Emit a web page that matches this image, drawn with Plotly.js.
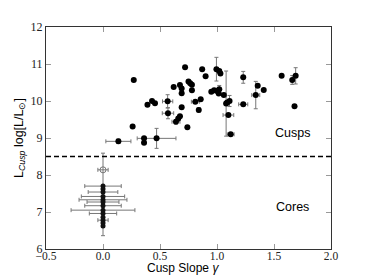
<!DOCTYPE html>
<html>
<head>
<meta charset="utf-8">
<script src="https://cdn.plot.ly/plotly-3.0.1.min.js"></script>
<style>html,body{margin:0;padding:0;background:#fff;}#chart{width:368px;height:276px;}</style>
</head>
<body>
<div id="chart"></div>
<script>
// Cusp galaxies: slope, luminosity, errors
const cuspSlope = [0.27,0.39,0.43,0.456,0.567,0.57,0.26,0.135,0.36,0.36,0.47,0.72,0.87,0.90,0.75,0.765,0.78,0.78,0.62,0.675,0.69,0.69,0.995,1.02,1.03,0.95,0.975,1.0,1.02,1.015,1.08,1.06,1.09,1.11,1.10,1.12,0.69,0.81,0.857,0.84,0.675,0.66,0.64,0.74,1.23,1.23,1.357,1.41,1.34,1.567,1.69,1.66,1.68];
const cuspLum   = [10.57,9.90,10.00,9.94,9.99,9.67,9.31,8.91,8.99,8.87,8.99,10.91,10.86,10.67,10.53,10.48,10.44,10.29,10.38,10.43,10.34,10.21,10.86,10.81,10.74,10.25,10.29,10.27,10.32,10.20,9.93,10.16,9.96,10.0,9.62,9.10,9.83,9.98,10.05,9.76,9.59,9.53,9.44,9.29,10.64,9.91,10.41,10.30,10.16,10.68,10.68,10.57,9.86];
const cuspSlopeErr = [0,0,0,0,0.045,0.05,0,0.11,0,0,0.17,0,0,0,0,0,0,0,0,0,0,0,0,0,0,0,0,0,0,0,0,0,0,0,0.047,0.03,0,0.035,0,0,0,0,0.035,0,0,0.04,0,0,0.035,0,0,0,0];
const cuspLumErr   = [0,0,0,0,0.18,0.15,0,0.06,0,0,0.27,0,0,0,0,0,0,0,0,0,0,0,0.32,0,0,0,0,0,0.1,0,0.88,0,0,0.15,0,0,0,0,0,0.06,0,0,0.06,0,0.16,0,0,0,0.37,0,0.22,0.12,0];

// Core galaxies (slope 0)
const coreSlope = [0,0,0,0,0,0,0,0,0,0,0,0,0];
const coreLum   = [7.70,7.62,7.54,7.42,7.33,7.27,7.17,7.05,6.96,6.86,6.78,6.70,6.62];
const coreSlopeErr = [0.16,0,0.13,0.19,0.21,0.14,0.16,0.28,0.12,0,0.045,0,0];
const coreLumErr   = [0,0,0,0,0,0,0,0,0,0,0,0.34,0];

// Open-symbol core galaxy
const openSlope = [0];
const openLum = [8.14];
const openSlopeErr = [0.045];
const openLumErr = [0.45];

const threshold = 8.5;
const xTicks = [-0.5,0.0,0.5,1.0,1.5,2.0];
const yTicks = [6,7,8,9,10,11,12];
const regionLabels = ['Cusps','Cores'];
const regionLabelX = [1.66,1.66];
const regionLabelY = [9.14,7.13];

const errStyle = (arr) => ({type:'data', array:arr, visible:true, color:'#777', thickness:1, width:2});

const traces = [
  {x:openSlope, y:openLum, mode:'markers', type:'scatter',
   marker:{symbol:'circle-open', size:6, color:'#777', line:{width:1}},
   error_x:errStyle(openSlopeErr), error_y:errStyle(openLumErr), hoverinfo:'skip'},
  {x:coreSlope, y:coreLum, mode:'markers', type:'scatter',
   marker:{symbol:'circle', size:5, color:'#111'},
   error_x:errStyle(coreSlopeErr), error_y:errStyle(coreLumErr)},
  {x:cuspSlope, y:cuspLum, mode:'markers', type:'scatter',
   marker:{symbol:'circle', size:6, color:'#000'},
   error_x:errStyle(cuspSlopeErr), error_y:errStyle(cuspLumErr)}
];

const tickFont = {family:'Liberation Serif, serif', size:11.5, color:'#222'};
const titleFont = {family:'Liberation Sans, Arial, sans-serif', size:12.5, color:'#000'};
const xTitleFont = {family:'Liberation Sans, Arial, sans-serif', size:12, color:'#000'};

const layout = {
  width:368, height:276,
  margin:{l:46, r:37, t:27, b:27},
  paper_bgcolor:'#fff', plot_bgcolor:'#fff',
  showlegend:false,
  xaxis:{range:[-0.5,2.0], tickvals:xTicks, ticktext:xTicks.map(v=>(v<0?'\u2212':'')+Math.abs(v).toFixed(1)),
    ticks:'inside', ticklen:5, tickcolor:'#999', tickwidth:1, ticklabelstandoff:-4,
    showline:true, linecolor:'#333', linewidth:1, mirror:'ticks',
    showgrid:false, zeroline:false, tickfont:tickFont},
  yaxis:{range:[6,12], tickvals:yTicks, ticktext:yTicks.map(String),
    ticks:'inside', ticklen:5, tickcolor:'#999', tickwidth:1,
    showline:true, linecolor:'#333', linewidth:1, mirror:'ticks',
    showgrid:false, zeroline:false, tickfont:{family:'Liberation Serif, serif', size:12, color:'#222'},
    title:{text:'L<sub><i>Cusp</i></sub> log[L/L<sub>⊙</sub>]', font:titleFont, standoff:4}},
  shapes:[{type:'line', xref:'paper', x0:0, x1:1, yref:'y', y0:threshold, y1:threshold,
    line:{color:'#000', width:1.5, dash:'5px,3px'}}],
  annotations: regionLabels.map((t,i)=>({x:regionLabelX[i], y:regionLabelY[i], xref:'x', yref:'y',
    text:t, showarrow:false, font:titleFont})).concat([
    {x:0.48, y:-0.087, xref:'paper', yref:'paper', xanchor:'center', yanchor:'middle',
     text:'Cusp Slope <i>γ</i>', showarrow:false, font:xTitleFont}])
};

Plotly.newPlot('chart', traces, layout, {displayModeBar:false, staticPlot:true});
</script>
</body>
</html>
